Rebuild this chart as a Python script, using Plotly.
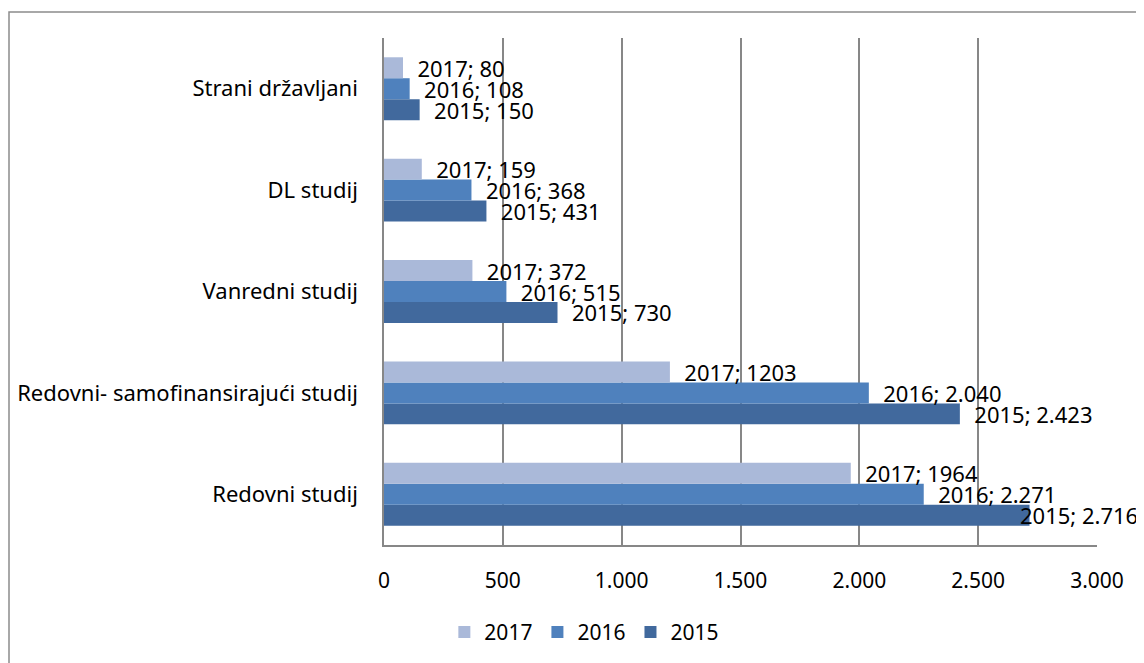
import plotly.graph_objects as go

categories = ["Redovni studij", "Redovni- samofinansirajući studij", "Vanredni studij", "DL studij", "Strani državljani"]
years = ["2015", "2016", "2017"]
values_2015 = [2716, 2423, 730, 431, 150]
values_2016 = [2271, 2040, 515, 368, 108]
values_2017 = [1964, 1203, 372, 159, 80]
labels_2015 = ["2.716", "2.423", "730", "431", "150"]
labels_2016 = ["2.271", "2.040", "515", "368", "108"]
labels_2017 = ["1964", "1203", "372", "159", "80"]
x_ticks = [0, 500, 1000, 1500, 2000, 2500, 3000]
x_tick_labels = ["0", "500", "1.000", "1.500", "2.000", "2.500", "3.000"]

colors = {"2015": "#41699D", "2016": "#4F81BD", "2017": "#AAB9D9"}
FONT = "Noto Sans"
X_MAX = 3000
EDGE_LIMIT = 2600  # labels of bars longer than this are pulled back to fit

series = [
    ("2015", values_2015, labels_2015),
    ("2016", values_2016, labels_2016),
    ("2017", values_2017, labels_2017),
]

fig = go.Figure()
edge_labels = []
for si, (name, vals, labs) in enumerate(series):
    texts = []
    for cat, v, l in zip(categories, vals, labs):
        t = f"{name}; {l}"
        if v > EDGE_LIMIT:
            texts.append("")
            edge_labels.append((si, cat, v, t))
        else:
            texts.append("  " + t)
    fig.add_trace(go.Bar(
        name=name,
        y=categories,
        x=vals,
        orientation="h",
        marker=dict(color=colors[name], line=dict(width=0)),
        text=texts,
        textposition="outside",
        textfont=dict(family=FONT, size=22, color="#000000"),
        cliponaxis=False,
        constraintext="none",
        hoverinfo="x+y+name",
    ))

bar_px = 21
for si, cat, v, t in edge_labels:
    fig.add_annotation(
        x=v, y=cat, xref="x", yref="y",
        text=t, showarrow=False,
        xanchor="left", yanchor="middle",
        xshift=-12, yshift=(si - 1) * bar_px,
        font=dict(family=FONT, size=22, color="#000000"),
    )

fig.update_layout(
    width=1144,
    height=663,
    barmode="group",
    bargap=0.38,
    bargroupgap=0,
    plot_bgcolor="white",
    paper_bgcolor="white",
    margin=dict(l=376, r=55, t=30, b=126, autoexpand=False),
    font=dict(family=FONT, size=21, color="#000000"),
    showlegend=True,
    legend=dict(
        orientation="h",
        x=0.281, xanchor="center",
        y=-0.132, yanchor="top",
        traceorder="reversed",
        font=dict(family=FONT, size=21),
        itemwidth=30,
    ),
)

fig.update_xaxes(
    range=[0, X_MAX],
    tickvals=x_ticks,
    ticktext=x_tick_labels,
    showgrid=True,
    gridcolor="#878787",
    gridwidth=1.5,
    showline=True,
    linecolor="#878787",
    linewidth=1.5,
    zeroline=False,
    ticks="",
    ticklabelstandoff=16,
    tickfont=dict(family=FONT, size=21),
    automargin=False,
)
fig.update_yaxes(
    categoryorder="array",
    categoryarray=categories,
    showgrid=False,
    showline=True,
    linecolor="#878787",
    linewidth=1.5,
    ticks="",
    ticklabelstandoff=20,
    tickfont=dict(family=FONT, size=22),
    automargin=False,
)

fig.add_shape(
    type="rect", xref="paper", yref="paper",
    x0=(1 - 376) / 713, x1=1.2,
    y0=-0.5, y1=(537 - 4) / 507,
    line=dict(color="#8C8C8C", width=1.5),
    fillcolor="rgba(0,0,0,0)",
    layer="below",
)

fig.write_html("out.html")
